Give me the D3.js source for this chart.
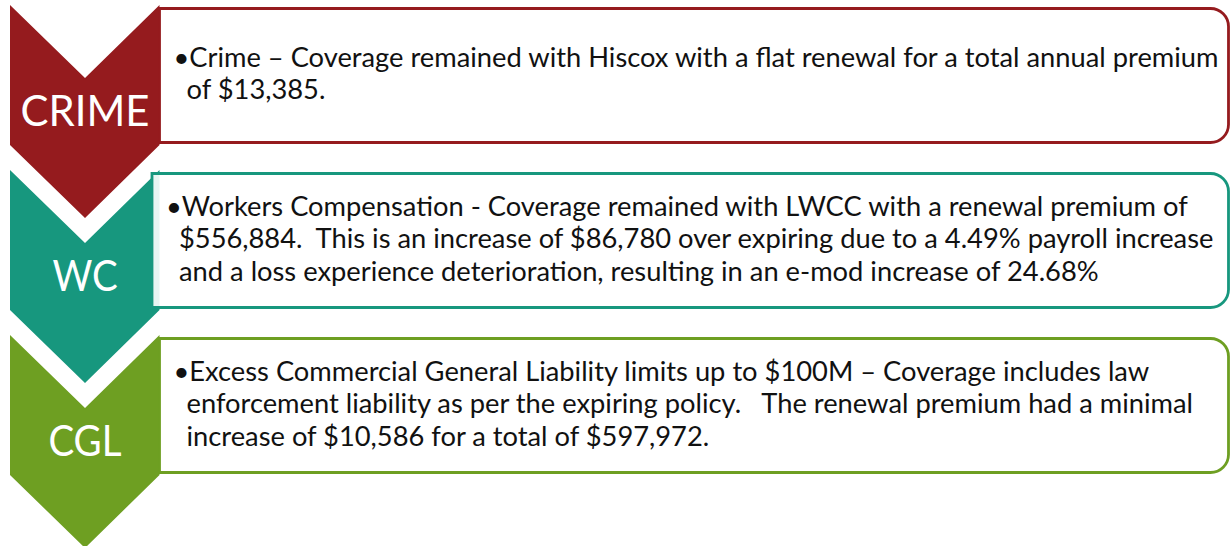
<!DOCTYPE html>
<html>
<head>
<meta charset="utf-8">
<script src="https://cdn.jsdelivr.net/npm/d3@7"></script>
<style>
  html, body { margin: 0; padding: 0; background: #ffffff; }
  svg { display: block; }
</style>
</head>
<body>
<script>
// ---- data ----
const categories = ["CRIME", "WC", "CGL"];
const colors = ["#951b1e", "#17977e", "#6e9f22"];
const crimeLines = [
  "Crime \u2013 Coverage remained with Hiscox with a flat renewal for a total annual premium",
  "of $13,385."
];
const wcLines = [
  "Workers Compensation - Coverage remained with LWCC with a renewal premium of",
  "$556,884.\u00a0 This is an increase of $86,780 over expiring due to a 4.49% payroll increase",
  "and a loss experience deterioration, resulting in an e-mod increase of 24.68%"
];
const cglLines = [
  "Excess Commercial General Liability limits up to $100M \u2013 Coverage includes law",
  "enforcement liability as per the expiring policy.\u00a0\u00a0 The renewal premium had a minimal",
  "increase of $10,586 for a total of $597,972."
];
const texts = [crimeLines, wcLines, cglLines];

// ---- layout ----
const W = 1231, H = 546;
const svg = d3.select("body").append("svg").attr("width", W).attr("height", H);

const y = d3.scaleBand().domain(categories).range([5, 5 + 165 * categories.length]).padding(0);

const chevX0 = 10, chevX1 = 159.5, chevCx = 85;
const notch = 73, side = 140;
const boxRight = 1228.5, boxR = 18;
const boxInset = [0, -7.5, 0];
const bodyFont = "Lato, 'Open Sans', sans-serif";
const bodySize = 27.3, lineGap = 32.5;
const labelSize = 43;

const meas = svg.append("text").attr("x", -2000).attr("y", -2000);
function natural(str, size, fam) {
  meas.attr("font-size", size).attr("font-family", fam).text(str);
  return meas.node().getComputedTextLength();
}
const kLabel = 129 / natural("CRIME", labelSize, bodyFont);

function chevronPath(y0) {
  const p = d3.path();
  p.moveTo(chevX0, y0);
  p.lineTo(chevCx, y0 + notch);
  p.lineTo(chevX1, y0);
  p.lineTo(chevX1, y0 + side);
  p.lineTo(chevCx, y0 + side + notch);
  p.lineTo(chevX0, y0 + side);
  p.closePath();
  return p.toString();
}

function boxPath(x0, y0, x1, y1, r) {
  const p = d3.path();
  p.moveTo(x0, y0);
  p.lineTo(x1 - r, y0);
  p.arcTo(x1, y0, x1, y0 + r, r);
  p.lineTo(x1, y1 - r);
  p.arcTo(x1, y1, x1 - r, y1, r);
  p.lineTo(x0, y1);
  p.closePath();
  return p.toString();
}

const g = svg.selectAll("g.item").data(categories).join("g").attr("class", "item");

g.each(function(cat, i) {
  const sel = d3.select(this);
  const y0 = y(cat);
  const col = colors[i];

  sel.append("path").attr("d", chevronPath(y0)).attr("fill", col);

  const lw = natural(cat, labelSize, bodyFont) * kLabel * (i === 0 ? 1 : 0.92);
  sel.append("text")
    .attr("x", chevCx).attr("y", y0 + 120.5)
    .attr("text-anchor", "middle")
    .attr("font-family", bodyFont).attr("font-size", labelSize)
    .attr("fill", "#ffffff")
    .attr("textLength", lw).attr("lengthAdjust", "spacingAndGlyphs")
    .text(cat);

  const bx = chevX1 + boxInset[i];
  sel.append("path")
    .attr("d", boxPath(bx, y0 + 3.5, boxRight, y0 + 137.5, boxR))
    .attr("fill", "#ffffff").attr("fill-opacity", 0.9)
    .attr("stroke", col).attr("stroke-width", 2.8);

  const lines = texts[i];
  const n = lines.length;
  const bulletX = bx + 14, tx = bx + 27;
  lines.forEach((ln, j) => {
    const by = y0 + 78 + (j - (n - 1) / 2) * lineGap;
    sel.append("text")
      .attr("x", j === 0 ? bulletX : tx).attr("y", by)
      .attr("font-family", bodyFont).attr("font-size", bodySize)
      .attr("fill", "#111111")
      .text(j === 0 ? "\u2022" + ln : ln);
  });
});
meas.remove();
</script>
</body>
</html>
